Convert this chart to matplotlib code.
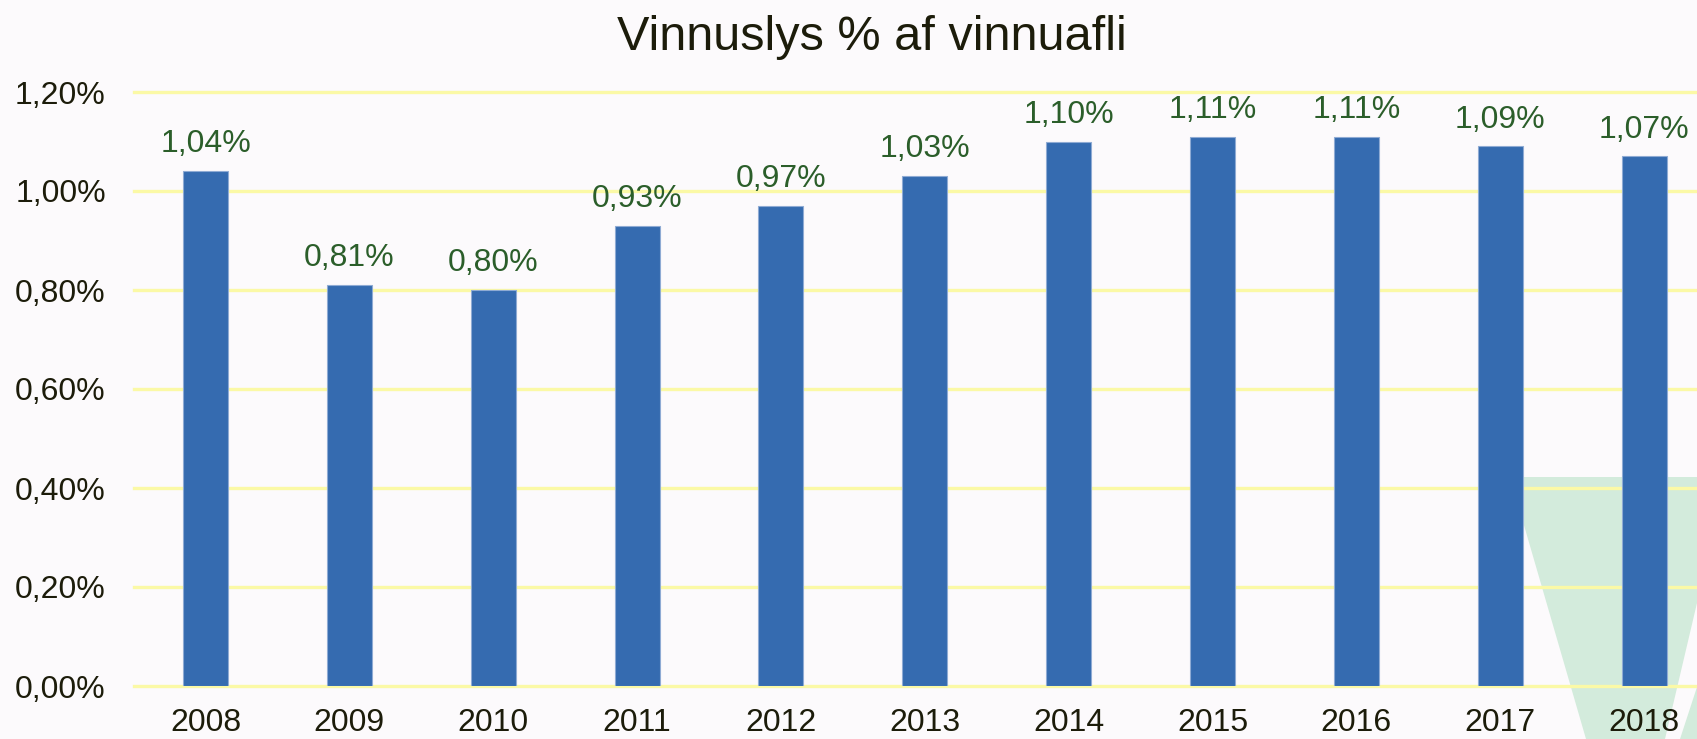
import matplotlib
matplotlib.use('Agg')
import matplotlib.pyplot as plt
from matplotlib.patches import Polygon

years = ['2008', '2009', '2010', '2011', '2012', '2013', '2014', '2015', '2016', '2017', '2018']
rates = [1.04, 0.81, 0.80, 0.93, 0.97, 1.03, 1.10, 1.11, 1.11, 1.09, 1.07]
ytick_vals = [0.0, 0.2, 0.4, 0.6, 0.8, 1.0, 1.2]

W, H = 1697, 739
BG = '#fcfafc'
BAR = '#356bb0'
TXT = '#1c1c0a'
LBL = '#2b5e2a'
GRID = '#fbf9a6'
GREEN = '#d3ebdc'

plt.rcParams['font.family'] = ['Liberation Sans', 'DejaVu Sans']

fig = plt.figure(figsize=(W/100, H/100), dpi=100, facecolor=BG)

def fp(x, y):
    return (x / W, 1 - y / H)

# decorative green shape behind the chart
shape1 = [fp(1510, 477), fp(1697, 477), fp(1697, 603), fp(1665, 739), fp(1586, 739)]
shape2 = [fp(1697, 687), fp(1697, 739), fp(1680, 739)]
for pts in (shape1, shape2):
    fig.patches.append(Polygon(pts, closed=True, transform=fig.transFigure,
                               facecolor=GREEN, edgecolor='none', zorder=-1))

# axes: x=0 slot starts at px 133.6, slot width 143.85; y 0 at px 686, 1.2 at px 92
slot = 143.85
x0_px = 133.6
px_per_unit = (686 - 92) / 1.2
ytop = 1.25
ax_left = x0_px / W
ax_bottom = (H - 686) / H
ax_h = (ytop * px_per_unit) / H
ax = fig.add_axes([ax_left, ax_bottom, 1 - ax_left, ax_h])
ax.set_zorder(2)
ax.patch.set_alpha(0)

xs = list(range(len(years)))
ax.bar(xs, rates, width=45 / slot, color=BAR, edgecolor='#8fabd4', linewidth=0.8, zorder=3)

for x, v in zip(xs, rates):
    ax.annotate(f'{v:.2f}%'.replace('.', ','), (x, v), xytext=(0, 13.5),
                textcoords='offset points', ha='center', va='baseline',
                fontsize=23, color=LBL, zorder=4)

ax.set_xlim(-0.5, (W - x0_px) / slot - 0.5)
ax.set_ylim(0, ytop)
ax.set_yticks(ytick_vals)
ax.set_yticklabels([f'{v:.2f}%'.replace('.', ',') for v in ytick_vals])
ax.set_xticks(xs)
ax.set_xticklabels(years)
ax.tick_params(axis='both', length=0, labelsize=23, labelcolor=TXT)
ax.tick_params(axis='y', pad=20)
ax.tick_params(axis='x', pad=15.5)
ax.grid(axis='y', color=GRID, linewidth=2.4, zorder=1)
ax.set_axisbelow(True)
for line in ax.get_ygridlines():
    line.set_clip_on(False)
for s in ax.spines.values():
    s.set_visible(False)

fig.text(872 / W, 1 - 50 / H, 'Vinnuslys % af vinnuafli', ha='center', va='baseline',
         fontsize=35, color=TXT)

fig.savefig('out.png', dpi=100, facecolor=BG)
